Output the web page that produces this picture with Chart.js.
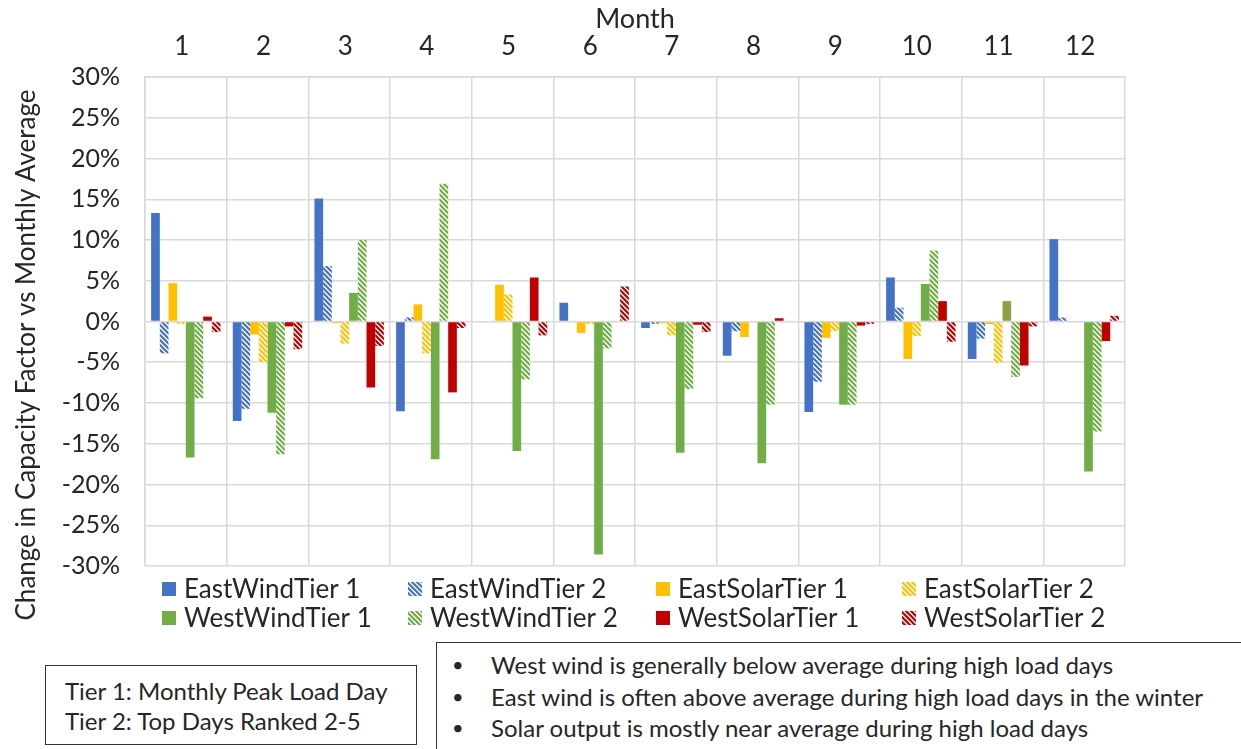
<!DOCTYPE html>
<html>
<head>
<meta charset="utf-8">
<script src="https://cdn.jsdelivr.net/npm/chart.js@4.4.0/dist/chart.umd.min.js"></script>
<style>
  body { margin: 0; background: #fff; }
  #wrap { position: relative; width: 1241px; height: 749px; overflow: hidden; font-family: Lato, sans-serif; color: #262626; }
  #c { position: absolute; left: 0; top: 0; }
  .box { position: absolute; border: 1.5px solid #333; background: #fff; box-sizing: border-box; }
  #tiers { left: 45px; top: 665px; width: 372px; height: 80px; padding: 10px 0 0 19px; font-size: 24px; line-height: 30px; }
  #notes { left: 436px; top: 642px; width: 830px; height: 130px; padding: 6px 0 0 0; font-size: 24px; line-height: 31.5px; }
  #notes div { position: relative; padding-left: 54px; }
  #notes div::before { content: "\2022"; position: absolute; left: 15px; font-size: 20px; }
</style>
</head>
<body>
<div id="wrap">
  <canvas id="c" width="1241" height="749"></canvas>
  <div class="box" id="tiers">Tier 1: Monthly Peak Load Day<br>Tier 2: Top Days Ranked 2-5</div>
  <div class="box" id="notes">
    <div>West wind is generally below average during high load days</div>
    <div>East wind is often above average during high load days in the winter</div>
    <div>Solar output is mostly near average during high load days</div>
  </div>
</div>
<script>
// values, % change vs monthly average
const months = ['1', '2', '3', '4', '5', '6', '7', '8', '9', '10', '11', '12'];
const eastWindT1  = [13.3, -12.2, 15.1, -11.0, -0.1, 2.3, -0.8, -4.2, -11.1, 5.4, -4.6, 10.1];
const eastWindT2  = [-3.9, -10.7, 6.8, 0.5, 0.1, 0.1, -0.3, -1.2, -7.4, 1.7, -2.1, 0.5];
const eastSolarT1 = [4.7, -1.6, -0.2, 2.1, 4.5, -1.4, -0.2, -1.9, -2.0, -4.6, -0.3, 0];
const eastSolarT2 = [-0.3, -5.0, -2.7, -3.9, 3.3, -0.3, -1.7, -0.1, -1.2, -1.8, -5.1, 0];
const westWindT1  = [-16.7, -11.2, 3.5, -16.9, -15.9, -28.6, -16.1, -17.4, -10.2, 4.6, 2.5, -18.4];
const westWindT2  = [-9.4, -16.3, 10.0, 16.9, -7.1, -3.3, -8.3, -10.2, -10.2, 8.7, -6.8, -13.5];
const westSolarT1 = [0.6, -0.6, -8.1, -8.7, 5.4, 0.1, -0.4, 0.4, -0.5, 2.5, -5.4, -2.4];
const westSolarT2 = [-1.3, -3.4, -3.0, -0.8, -1.7, 4.3, -1.3, 0.1, -0.3, -2.5, -0.6, 0.7];
const yTicks = [-30, -25, -20, -15, -10, -5, 0, 5, 10, 15, 20, 25, 30];

const BLUE = '#4472C4', YELLOW = '#FFC000', GREEN = '#70AD47', RED = '#C00000';
const TEXT = '#262626', GRID = '#D9D9D9';

// diagonal "\" stripes on white, used for the Tier 2 series
function hatch(color) {
    const s = 5;
    const c = document.createElement('canvas');
    c.width = s; c.height = s;
    const x = c.getContext('2d');
    x.fillStyle = '#fff';
    x.fillRect(0, 0, s, s);
    x.strokeStyle = color;
    x.lineWidth = 2.2;
    x.beginPath();
    for (let k = -1; k <= 1; k++) {
        x.moveTo(-1, -1 + k * s);
        x.lineTo(s + 1, s + 1 + k * s);
    }
    x.stroke();
    return x.createPattern(c, 'repeat');
}

// month 11 west wind tier 1 bar shows up olive in the source
const westWindT1Colors = westWindT1.map((v, i) => i === 10 ? '#8E9F45' : GREEN);

const datasets = [
    { label: 'EastWindTier 1',  data: eastWindT1,  backgroundColor: BLUE },
    { label: 'EastWindTier 2',  data: eastWindT2,  backgroundColor: hatch(BLUE) },
    { label: 'EastSolarTier 1', data: eastSolarT1, backgroundColor: YELLOW },
    { label: 'EastSolarTier 2', data: eastSolarT2, backgroundColor: hatch(YELLOW) },
    { label: 'WestWindTier 1',  data: westWindT1,  backgroundColor: westWindT1Colors, legendColor: GREEN },
    { label: 'WestWindTier 2',  data: westWindT2,  backgroundColor: hatch(GREEN) },
    { label: 'WestSolarTier 1', data: westSolarT1, backgroundColor: RED },
    { label: 'WestSolarTier 2', data: westSolarT2, backgroundColor: hatch(RED) }
];

// Excel-style 4-column legend + y title placed below centre
const extras = {
    id: 'extras',
    afterDraw(chart) {
        const ctx = chart.ctx;
        ctx.save();
        ctx.fillStyle = TEXT;
        ctx.font = '26px Lato';
        ctx.textAlign = 'center';
        ctx.textBaseline = 'middle';
        ctx.translate(27, 355);
        ctx.rotate(-Math.PI / 2);
        ctx.fillText('Change in Capacity Factor vs Monthly Average', 0, 0);
        ctx.restore();

        const colX = [162, 408, 656, 902];
        const rowY = [589, 618];
        ctx.save();
        ctx.font = '26px Lato';
        ctx.textBaseline = 'middle';
        chart.data.datasets.forEach((ds, i) => {
            const bx = colX[i % 4], cy = rowY[Math.floor(i / 4)];
            ctx.fillStyle = ds.legendColor || ds.backgroundColor;
            ctx.fillRect(bx, cy - 7, 14, 14);
            ctx.fillStyle = TEXT;
            ctx.fillText(ds.label, bx + 22, cy + 1);
        });
        ctx.restore();
    }
};

new Chart(document.getElementById('c'), {
    type: 'bar',
    data: { labels: months, datasets: datasets },
    options: {
        responsive: false,
        animation: false,
        layout: { padding: { left: 0, right: 116, top: 3, bottom: 183 } },
        datasets: { bar: { categoryPercentage: 0.85, barPercentage: 1.0 } },
        plugins: { legend: { display: false }, tooltip: { enabled: false } },
        scales: {
            x: {
                position: 'top',
                grid: { color: GRID, lineWidth: 1.5, drawTicks: false },
                border: { color: GRID, width: 1.5 },
                ticks: { color: TEXT, font: { family: 'Lato', size: 26 }, padding: 15, labelOffset: -4 },
                title: { display: true, text: 'Month', color: TEXT, font: { family: 'Lato', size: 27 }, padding: 0 },
                afterFit(scale) { scale.height = 74; }
            },
            y: {
                min: -30,
                max: 30,
                afterBuildTicks(scale) { scale.ticks = yTicks.map(v => ({ value: v })); },
                grid: { color: GRID, lineWidth: 1.5, drawTicks: false },
                border: { color: GRID, width: 1.5 },
                ticks: { color: TEXT, font: { family: 'Lato', size: 25 }, padding: 25, callback: v => v + '%' },
                afterFit(scale) { scale.width = 145; }
            }
        }
    },
    plugins: [extras]
});
</script>
</body>
</html>
